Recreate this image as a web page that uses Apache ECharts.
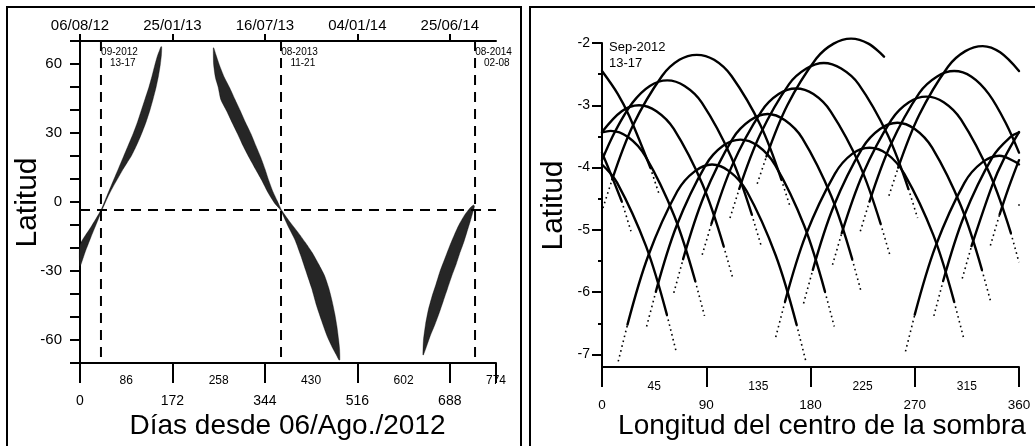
<!DOCTYPE html>
<html><head><meta charset="utf-8">
<script src="https://cdn.jsdelivr.net/npm/echarts@6/dist/echarts.min.js"></script>
<style>html,body{margin:0;padding:0;background:#fff}#c{width:1035px;height:446px}</style>
</head><body><div id="c"></div>
<script>
const FF = '"Liberation Sans", Arial, sans-serif';
const K = '#000';

// ---------- Left panel data ----------
const dayTickValues = [0, 172, 344, 516, 688, 774];
const dayLabelsLower = [0, 172, 344, 516, 688];
const dayLabelsUpper = [86, 258, 430, 602, 774];
const dateTickValues = [0, 172, 344, 516, 688];
const dateLabels = ['06/08/12', '25/01/13', '16/07/13', '04/01/14', '25/06/14'];
const latLabelsLeft = [-60, -30, 0, 30, 60];
const eclipseDays = [39, 374, 735];
const eclipseMonth = ['09-2012', '08-2013', '08-2014'];
const eclipseDates = ['13-17', '11-21', '02-08'];
const refLat = -3.5;

// band edges [day, latitude]
const band1EdgeA = [[0,-18.6],[20,-11],[39,-3.5],[50,2.6],[62,9.3],[72,14.8],[81,19.8],[90,24.8],[99,29.8],[107,34.8],[114,39.8],[121,44.8],[128,49.8],[134,54.8],[139.5,59.8],[144,63.5],[148,66],[150.5,67.5]];
const band1EdgeB = [[0,-28],[10,-21.5],[20,-15.5],[30,-9.8],[41,-3.5],[52,2.3],[62,6.8],[71,10.5],[80,14.2],[88,17.2],[96,20.2],[106,25],[115,29.9],[123,34.8],[130,39.8],[136,44.8],[141.5,49.8],[146,54.8],[149.5,59.8],[151.5,64],[152,67.5]];
const band2EdgeA = [[248,67],[248.5,60],[252,54],[257,50],[262,44.5],[273,39.5],[283,34.5],[293,29.7],[303,24.6],[314,19.6],[326,14.5],[338,9.5],[350,4],[362,-0.5],[373,-3.5],[386,-10],[400,-16.5],[411,-23.5],[421,-30.5],[431,-37.5],[440,-45],[450,-52],[460,-58.5],[470,-63.5],[478,-67],[482,-68.8]];
const band2EdgeB = [[249,67],[253,64],[259.5,59.5],[268,54.5],[278,49.9],[288,44.8],[298,39.8],[307.5,34.8],[318,29.7],[327,24.6],[336,19.6],[344,14.5],[351,9.5],[359,4.5],[367,0.5],[375,-3.5],[390,-8.5],[405,-13],[419,-17.5],[432,-22],[444,-27],[455,-32],[463,-37.5],[469,-43],[474,-48.5],[478,-54],[481,-59.5],[483,-64],[483.5,-68.5]];
const band3EdgeA = [[638,-66.5],[639,-60],[643,-53],[648,-47],[655,-41],[662,-36],[670,-30],[679,-24.5],[688,-19],[697,-14],[706,-9.5],[716,-5.5],[726,-2.5],[732,-1.3]];
const band3EdgeB = [[639,-66.5],[646,-62],[652,-58],[660,-53.5],[668,-48.5],[676,-43],[684,-37.5],[692,-32],[700,-27],[707,-22],[714,-17.5],[720,-13],[726,-8.5],[731,-4.5],[734,-1.8]];

// ---------- Right panel data ----------
const lonTickValues = [0, 90, 180, 270, 360];
const lonLabelsUpper = [45, 135, 225, 315];
const latTicksRight = [-7, -6, -5, -4, -3, -2];
const latMinorRight = [-6.5, -5.5, -4.5, -3.5, -2.5];
// solid parts of the shadow tracks [longitude, latitude]
const arcSolid = [
  [[270,-6.36],[288,-5.26],[313,-4.24],[328,-3.92],[343,-3.81],[358,-3.92],[360,-3.95]],
  [[0,-3.95],[13,-4.24],[38,-5.26],[56,-6.36]],
  [[294.5,-5.82],[312.5,-4.78],[337.5,-3.82],[352.5,-3.51],[360,-3.435]],
  [[0,-3.435],[7.5,-3.41],[22.5,-3.51],[37.5,-3.82],[62.5,-4.78],[80.5,-5.82]],
  [[319,-5.26],[337,-4.28],[347,-3.86],[360,-3.43]],
  [[0,-3.43],[17,-3.095],[32,-3.0],[47,-3.095],[62,-3.38],[87,-4.28],[105,-5.26]],
  [[343.3,-4.75],[351.3,-4.31],[360,-3.88]],
  [[0,-3.88],[11.3,-3.42],[26.3,-2.96],[41.3,-2.69],[56.3,-2.6],[71.3,-2.69],[86.3,-2.96],[111.3,-3.82],[129.3,-4.75]],
  [[8.8,-4.19],[26.8,-3.32],[51.8,-2.53],[66.8,-2.27],[81.8,-2.19],[96.8,-2.27],[111.8,-2.53],[136.8,-3.32],[154.8,-4.19]],
  [[22,-6.52],[40,-5.41],[65,-4.38],[80,-4.06],[95,-3.95],[110,-4.06],[125,-4.38],[150,-5.41],[168,-6.52]],
  [[46.5,-5.99],[64.5,-4.93],[89.5,-3.96],[104.5,-3.65],[119.5,-3.55],[134.5,-3.65],[149.5,-3.96],[174.5,-4.93],[192.5,-5.99]],
  [[70,-5.47],[88,-4.46],[113,-3.53],[128,-3.24],[143,-3.14],[158,-3.24],[173,-3.53],[198,-4.46],[216,-5.47]],
  [[94.5,-4.9],[112.5,-3.96],[137.5,-3.1],[152.5,-2.82],[167.5,-2.73],[182.5,-2.82],[197.5,-3.1],[222.5,-3.96],[240.5,-4.9]],
  [[118.5,-4.34],[136.5,-3.47],[161.5,-2.66],[176.5,-2.41],[191.5,-2.32],[206.5,-2.41],[221.5,-2.66],[246.5,-3.47],[264.5,-4.34]],
  [[142,-3.82],[160,-3.0],[185,-2.25],[200,-2.01],[215,-1.93],[230,-2.01],[243.5,-2.22]],
  [[158,-6.15],[176,-5.08],[201,-4.1],[216,-3.78],[231,-3.68],[246,-3.78],[261,-4.1],[286,-5.08],[304,-6.15]],
  [[182,-5.64],[200,-4.62],[225,-3.68],[240,-3.38],[255,-3.28],[270,-3.38],[285,-3.68],[310,-4.62],[328,-5.64]],
  [[207,-5.05],[225,-4.11],[250,-3.23],[265,-2.95],[280,-2.86],[295,-2.95],[310,-3.23],[335,-4.11],[353,-5.05]],
  [[231,-4.54],[249,-3.64],[274,-2.8],[289,-2.54],[304,-2.45],[319,-2.54],[334,-2.82],[349,-3.3],[360,-3.76]],
  [[0,-3.76],[8,-4.12],[17,-4.54]],
  [[255.7,-4.0],[273.7,-3.16],[298.7,-2.38],[313.7,-2.13],[328.7,-2.05],[343.7,-2.15],[360,-2.45]],
  [[0,-2.45],[13.7,-2.82],[23.7,-3.18],[41.7,-4.0]]
];
// sparse dotted ends of the tracks
const arcTails = [
  [[262,-6.95],[270,-6.36]], [[56,-6.36],[64,-6.95]],
  [[286.5,-6.38],[294.5,-5.82]], [[80.5,-5.82],[88.5,-6.38]],
  [[311,-5.78],[319,-5.26]], [[105,-5.26],[113,-5.78]],
  [[335.3,-5.25],[343.3,-4.75]], [[129.3,-4.75],[137.3,-5.25]],
  [[0.8,-4.65],[8.8,-4.19]], [[154.8,-4.19],[162.8,-4.65]],
  [[14,-7.11],[22,-6.52]], [[168,-6.52],[176,-7.11]],
  [[38.5,-6.55],[46.5,-5.99]], [[192.5,-5.99],[200.5,-6.55]],
  [[62,-6.01],[70,-5.47]], [[216,-5.47],[224,-6.01]],
  [[86.5,-5.4],[94.5,-4.9]], [[240.5,-4.9],[248.5,-5.4]],
  [[110.5,-4.81],[118.5,-4.34]], [[264.5,-4.34],[272.5,-4.81]],
  [[134,-4.26],[142,-3.82]],
  [[150,-6.72],[158,-6.15]], [[304,-6.15],[312,-6.72]],
  [[174,-6.18],[182,-5.64]], [[328,-5.64],[336,-6.18]],
  [[199,-5.56],[207,-5.05]], [[353,-5.05],[360,-5.52]],
  [[223,-5.02],[231,-4.54]], [[17,-4.54],[25,-5.02]],
  [[247.7,-4.45],[255.7,-4.0]], [[41.7,-4.0],[49.7,-4.45]]
];
const edgeDots = [[360, -4.6]];

const chart = echarts.init(document.getElementById('c'), null, {renderer: 'canvas'});

function axisBase(extra) {
  return Object.assign({
    type: 'value',
    splitLine: {show: false},
    axisLine: {show: true, onZero: false, lineStyle: {color: K, width: 2}},
    axisTick: {show: true, lineStyle: {color: K, width: 2}},
    axisLabel: {color: K, fontFamily: FF}
  }, extra);
}

function bandSeries(edgeA, edgeB) {
  const pts = edgeA.concat(edgeB.slice().reverse());
  return {
    type: 'custom', xAxisIndex: 0, yAxisIndex: 0, silent: true, clip: false,
    data: [[0, 0]],
    renderItem: function (params, api) {
      return {
        type: 'polygon',
        shape: {points: pts.map(function (p) { return api.coord(p); }), smooth: 0.2},
        style: {fill: '#262626', stroke: 'rgba(0,0,0,0.35)', lineWidth: 1}
      };
    }
  };
}

const series = [
  bandSeries(band1EdgeA, band1EdgeB),
  bandSeries(band2EdgeA, band2EdgeB),
  bandSeries(band3EdgeA, band3EdgeB)
];
eclipseDays.forEach(function (d) {
  series.push({
    type: 'line', xAxisIndex: 0, yAxisIndex: 0, silent: true, symbol: 'none',
    data: [[d, 70], [d, -70]],
    lineStyle: {color: K, width: 2, type: [10, 7]}
  });
});
series.push({
  type: 'line', xAxisIndex: 0, yAxisIndex: 0, silent: true, symbol: 'none',
  data: [[0, refLat], [774, refLat]],
  lineStyle: {color: K, width: 2, type: [10, 7]}
});
arcSolid.forEach(function (a) {
  series.push({
    type: 'line', xAxisIndex: 3, yAxisIndex: 2, silent: true, symbol: 'none',
    clip: false, smooth: 0.35, data: a,
    lineStyle: {color: K, width: 2.4, cap: 'round'}
  });
});
arcTails.forEach(function (a) {
  series.push({
    type: 'line', xAxisIndex: 3, yAxisIndex: 2, silent: true, symbol: 'none',
    clip: false, data: a,
    lineStyle: {color: K, width: 1.6, type: [1.6, 3.4]}
  });
});
series.push({
  type: 'scatter', xAxisIndex: 3, yAxisIndex: 2, silent: true, clip: false,
  data: edgeDots, symbol: 'circle', symbolSize: 2, itemStyle: {color: K}
});

const option = {
  animation: false,
  backgroundColor: '#fff',
  grid: [
    {left: 80, top: 41, width: 416, height: 322},
    {left: 602, top: 43, width: 417, height: 324}
  ],
  xAxis: [
    axisBase({gridIndex: 0, position: 'bottom', min: 0, max: 774,
      axisTick: {show: true, length: 20, customValues: dayTickValues, lineStyle: {color: K, width: 2}},
      axisLabel: {customValues: dayLabelsLower, margin: 31, fontSize: 14, color: K, fontFamily: FF}}),
    axisBase({gridIndex: 0, position: 'bottom', min: 0, max: 774,
      axisLine: {show: false}, axisTick: {show: false},
      axisLabel: {customValues: dayLabelsUpper, margin: 12, fontSize: 12, color: K, fontFamily: FF}}),
    axisBase({gridIndex: 0, position: 'top', min: 0, max: 774,
      axisTick: {show: true, length: 7, customValues: dateTickValues, lineStyle: {color: K, width: 2}},
      axisLabel: {customValues: dateTickValues, margin: 8, fontSize: 15, color: K, fontFamily: FF,
        formatter: function (v) { return dateLabels[dateTickValues.indexOf(v)]; }}}),
    axisBase({gridIndex: 1, position: 'bottom', min: 0, max: 360,
      axisTick: {show: true, length: 20, customValues: lonTickValues, lineStyle: {color: K, width: 2}},
      axisLabel: {customValues: lonTickValues, margin: 31, fontSize: 13.5, color: K, fontFamily: FF}}),
    axisBase({gridIndex: 1, position: 'bottom', min: 0, max: 360,
      axisLine: {show: false}, axisTick: {show: false},
      axisLabel: {customValues: lonLabelsUpper, margin: 14, fontSize: 12, color: K, fontFamily: FF}})
  ],
  yAxis: [
    axisBase({gridIndex: 0, position: 'left', min: -70, max: 70, interval: 10,
      axisTick: {show: true, length: 10, lineStyle: {color: K, width: 2}},
      axisLabel: {customValues: latLabelsLeft, margin: 18, fontSize: 15, color: K, fontFamily: FF}}),
    axisBase({gridIndex: 0, position: 'right', min: -70, max: 70, show: false}),
    axisBase({gridIndex: 1, position: 'left', min: -7.2, max: -2,
      axisTick: {show: true, length: 10, customValues: latTicksRight, lineStyle: {color: K, width: 2}},
      axisLabel: {customValues: latTicksRight, margin: 12, fontSize: 14, color: K, fontFamily: FF}}),
    axisBase({gridIndex: 1, position: 'left', min: -7.2, max: -2,
      axisLine: {show: false},
      axisTick: {show: true, length: 4, customValues: latMinorRight, lineStyle: {color: K, width: 2}},
      axisLabel: {show: false}})
  ],
  series: series
};
chart.setOption(option);

// ---------- Text and frames placed through the axes ----------
const g = [];
g.push({type: 'rect', shape: {x: 7, y: 7, width: 514, height: 460}, style: {fill: 'none', stroke: K, lineWidth: 2}, silent: true});
g.push({type: 'rect', shape: {x: 530, y: 7, width: 520, height: 460}, style: {fill: 'none', stroke: K, lineWidth: 2}, silent: true});
function txt(x, y, s, size, align, rot) {
  g.push({type: 'text', x: x, y: y, rotation: rot || 0, silent: true,
    style: {text: s, fontFamily: FF, fontSize: size, fill: K, align: align || 'center', verticalAlign: 'middle'}});
}
eclipseDays.forEach(function (d, i) {
  const p = chart.convertToPixel({xAxisIndex: 0, yAxisIndex: 0}, [d, 70]);
  txt(p[0] + 18.5, p[1] + 11.5, eclipseMonth[i], 10);
  txt(p[0] + 21.8, p[1] + 22.5, eclipseDates[i], 10);
});
const pR = chart.convertToPixel({xAxisIndex: 3, yAxisIndex: 2}, [0, -2]);
txt(pR[0] + 7, pR[1] + 4.5, 'Sep-2012', 13, 'left');
txt(pR[0] + 7, pR[1] + 20.5, '13-17', 13, 'left');
txt(27.5, 202.5, 'Latitud', 30, 'center', Math.PI / 2);
txt(554, 205.5, 'Latitud', 30, 'center', Math.PI / 2);
txt(287.5, 426, 'Días desde 06/Ago./2012', 28);
txt(822, 426, 'Longitud del centro de la sombra', 28);
chart.setOption({graphic: g});
</script></body></html>
